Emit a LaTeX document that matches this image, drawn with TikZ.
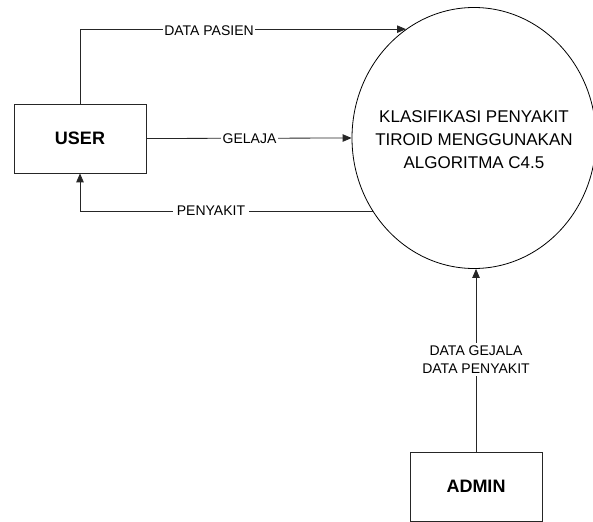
\documentclass[tikz,border=0pt]{standalone}
\usepackage{fontspec}
\setmainfont{Liberation Sans}
\usetikzlibrary{shapes.geometric,arrows.meta}
\begin{document}
\begin{tikzpicture}[x=1pt,y=-1pt,
  entity/.style={draw=black!85,line width=0.8pt,minimum width=132pt,minimum height=69pt,inner sep=0pt,font=\fontsize{18}{22}\selectfont\bfseries},
  proc/.style={draw=black,line width=0.8pt,ellipse,minimum width=244pt,minimum height=261pt,inner sep=0pt},
  proctext/.style={align=center,inner sep=0pt,font=\fontsize{17}{23}\selectfont},
  flow/.style={draw=black!85,line width=0.8pt},
  arr/.style={flow,-{Triangle[length=9pt,width=7.5pt]}},
  lbl/.style={fill=white,inner sep=1.5pt,font=\fontsize{14}{18}\selectfont,align=center}
]
\useasboundingbox (0,0) rectangle (593,521);
\node[entity] (user) at (80,138.5) {USER};
\node[entity] (admin) at (476,486.5) {ADMIN};
\node[proc] (proc) at (474,138) {};
\node[proctext] (ptext) at (474,140) {KLASIFIKASI PENYAKIT\\TIROID MENGGUNAKAN\\ALGORITMA C4.5};
% DATA PASIEN
\draw[arr] (user.north) |- (proc.122.6);
\node[lbl] (l1) at (209,31) {DATA PASIEN};
% GELAJA
\draw[arr] (user.east) -- (proc.180);
\node[lbl] (l2) at (249.5,139) {GELAJA};
% PENYAKIT
\draw[arr] (proc.216.3) -| (user.south);
\node[lbl,inner xsep=4pt] (l3) at (211,211) {PENYAKIT};
% ADMIN flow
\draw[arr] (admin.north) -- (admin.north |- proc.south);
\node[lbl,inner sep=3pt] (l4) at (476,359.5) {DATA GEJALA\\DATA PENYAKIT};
\end{tikzpicture}
\end{document}
